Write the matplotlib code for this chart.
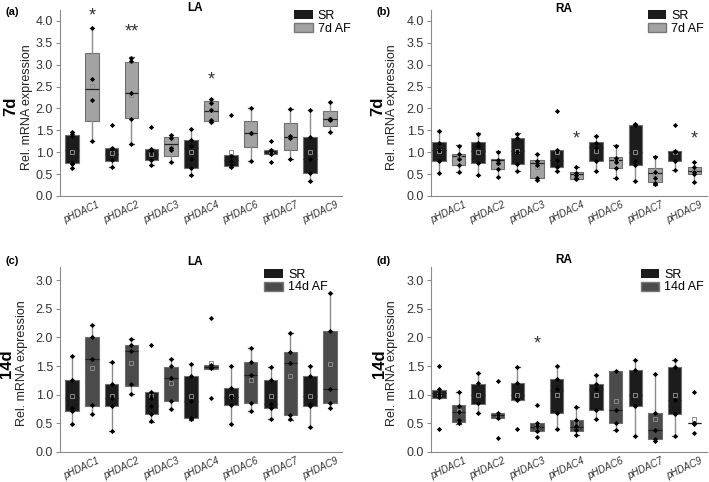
import numpy as np
import matplotlib.pyplot as plt
from matplotlib.patches import Patch

plt.rcParams['font.family'] = ['Liberation Sans', 'DejaVu Sans']

genes = ['pHDAC1', 'pHDAC2', 'pHDAC3', 'pHDAC4', 'pHDAC6', 'pHDAC7', 'pHDAC9']

# box stats per gene: (whisker low, q1, median, q3, whisker high, mean)
# (a) LA 7d
la7_sr_box = [(0.65, 0.75, 1.05, 1.40, 1.47, 1.00), (0.67, 0.81, 0.95, 1.09, 1.09, 0.98),
              (0.71, 0.82, 0.95, 1.07, 1.07, 0.96), (0.47, 0.65, 1.10, 1.28, 1.54, 1.00),
              (0.66, 0.69, 0.82, 0.93, 0.93, 1.00), (0.96, 0.96, 1.01, 1.05, 1.05, 1.02),
              (0.34, 0.52, 0.84, 1.35, 1.97, 1.00)]
la7_sr_pts = [[1.47, 1.42, 1.38, 0.76, 0.72, 0.65], [1.62, 1.09, 1.07, 0.82, 0.67],
              [1.57, 1.07, 1.02, 0.82, 0.71], [1.54, 1.28, 1.15, 0.85, 0.65, 0.47],
              [1.86, 0.92, 0.80, 0.70, 0.66], [1.25, 1.05, 1.02, 0.97, 0.77],
              [1.97, 1.35, 0.84, 0.52, 0.34]]
la7_af_box = [(1.25, 1.72, 2.45, 3.27, 3.84, 2.51), (1.18, 1.79, 2.35, 3.07, 3.17, 2.31),
              (0.77, 0.92, 1.19, 1.35, 1.39, 1.13), (1.69, 1.72, 1.94, 2.17, 2.21, 1.97),
              (0.79, 1.12, 1.43, 1.72, 2.01, 1.43), (0.84, 1.06, 1.35, 1.67, 1.98, 1.34),
              (1.46, 1.59, 1.76, 1.95, 2.14, 1.76)]
la7_af_pts = [[3.84, 2.68, 2.20, 1.25], [3.15, 3.08, 2.35, 1.77, 1.18],
              [1.39, 1.33, 1.10, 1.06, 0.77], [2.21, 2.12, 1.97, 1.74, 1.70],
              [2.01, 1.43, 0.79], [1.98, 1.36, 1.33, 0.84],
              [2.14, 1.77, 1.75, 1.73, 1.46]]
la7_stars = [(1, '*', 4.12), (3, '**', 3.75), (7, '*', 2.65)]

# (b) RA 7d
ra7_sr_box = [(0.52, 0.79, 1.06, 1.23, 1.48, 1.02), (0.48, 0.76, 1.02, 1.24, 1.43, 1.00),
              (0.58, 0.72, 1.02, 1.32, 1.43, 1.02), (0.58, 0.66, 0.82, 1.05, 1.05, 1.00),
              (0.58, 0.79, 1.12, 1.24, 1.38, 1.02), (0.35, 0.70, 1.00, 1.62, 1.65, 1.00),
              (0.60, 0.80, 1.00, 1.03, 1.03, 1.00)]
ra7_sr_pts = [[1.48, 1.21, 1.05, 0.80, 0.52], [1.42, 1.20, 1.15, 0.76, 0.48],
              [1.42, 1.32, 1.00, 0.72, 0.58], [1.95, 1.05, 0.82, 0.66, 0.58],
              [1.38, 1.22, 1.10, 0.80, 0.58], [1.65, 1.62, 0.80, 0.70, 0.35],
              [1.62, 1.03, 1.00, 0.80, 0.60]]
ra7_af_box = [(0.55, 0.70, 0.92, 0.97, 1.17, 0.87), (0.43, 0.62, 0.82, 0.85, 1.02, 0.76),
              (0.37, 0.42, 0.75, 0.82, 0.95, 0.66), (0.38, 0.38, 0.50, 0.55, 0.66, 0.48),
              (0.42, 0.63, 0.83, 0.88, 1.17, 0.80), (0.25, 0.31, 0.52, 0.64, 0.91, 0.50),
              (0.32, 0.51, 0.56, 0.66, 0.77, 0.57)]
ra7_af_pts = [[1.15, 0.95, 0.85, 0.70, 0.55], [1.00, 0.82, 0.75, 0.62, 0.43],
              [0.95, 0.80, 0.70, 0.42, 0.37], [0.66, 0.52, 0.48, 0.40, 0.38],
              [1.15, 0.86, 0.78, 0.63, 0.42], [0.90, 0.55, 0.40, 0.30, 0.27],
              [0.77, 0.66, 0.55, 0.50, 0.32]]
ra7_stars = [(7, '*', 1.30), (13, '*', 1.30)]

# (c) LA 14d
la14_sr_box = [(0.49, 0.72, 0.95, 1.25, 1.68, 0.97), (0.37, 0.81, 0.95, 1.19, 1.58, 0.97),
               (0.53, 0.67, 0.81, 1.04, 1.04, 0.98), (0.56, 0.60, 0.89, 1.32, 1.53, 0.98),
               (0.49, 0.82, 0.96, 1.11, 1.51, 0.98), (0.57, 0.77, 0.84, 1.25, 1.48, 0.98),
               (0.43, 0.81, 0.98, 1.32, 1.51, 0.98)]
la14_sr_pts = [[1.68, 1.25, 0.77, 0.72, 0.49], [1.58, 1.19, 0.95, 0.81, 0.37],
               [1.86, 1.04, 0.95, 0.81, 0.67, 0.54], [1.53, 1.32, 0.89, 0.60, 0.57],
               [1.51, 1.11, 0.96, 0.82, 0.49], [1.48, 1.25, 0.84, 0.77, 0.57],
               [1.51, 1.32, 0.83, 0.81, 0.43]]
la14_af_box = [(0.67, 0.81, 1.63, 2.01, 2.22, 1.47), (1.02, 1.16, 1.77, 1.86, 1.98, 1.56),
               (0.75, 0.89, 1.30, 1.49, 1.62, 1.21), (1.45, 1.45, 1.49, 1.52, 1.52, 1.56),
               (0.71, 0.85, 1.35, 1.58, 1.82, 1.26), (0.56, 0.64, 1.56, 1.75, 2.08, 1.32),
               (0.77, 0.85, 1.10, 2.12, 2.77, 1.53)]
la14_af_pts = [[2.22, 2.01, 1.63, 0.82, 0.67], [1.98, 1.86, 1.77, 1.18, 1.02],
               [1.62, 1.50, 1.30, 0.89, 0.75], [2.34, 1.52, 1.48, 1.46, 0.94],
               [1.82, 1.58, 1.35, 0.86, 0.71], [2.08, 1.75, 1.56, 0.64, 0.57],
               [2.77, 2.12, 1.10, 0.85, 0.77]]
la14_stars = []

# (d) RA 14d
ra14_sr_box = [(0.94, 0.94, 1.03, 1.09, 1.09, 1.00), (0.68, 0.84, 1.00, 1.18, 1.38, 1.00),
               (0.90, 0.91, 1.00, 1.21, 1.49, 1.00), (0.40, 0.68, 1.09, 1.28, 1.50, 1.00),
               (0.58, 0.73, 1.10, 1.19, 1.35, 1.00), (0.28, 0.80, 1.00, 1.44, 1.61, 0.99),
               (0.28, 0.66, 0.91, 1.49, 1.61, 1.00)]
ra14_sr_pts = [[1.51, 1.10, 1.02, 0.96, 0.40], [1.38, 1.20, 0.85, 0.68],
               [1.49, 1.20, 0.92, 0.90, 0.41], [1.50, 1.28, 1.10, 0.68, 0.40],
               [1.35, 1.19, 1.10, 0.73, 0.58], [1.61, 1.44, 0.80, 0.28],
               [1.61, 1.49, 0.91, 0.66, 0.28]]
ra14_af_box = [(0.49, 0.53, 0.70, 0.82, 1.05, 0.72), (0.60, 0.60, 0.64, 0.68, 0.68, 0.64),
               (0.36, 0.36, 0.44, 0.50, 0.50, 0.48), (0.29, 0.36, 0.43, 0.56, 0.79, 0.50),
               (0.38, 0.50, 0.74, 1.42, 1.42, 0.89), (0.20, 0.22, 0.39, 0.68, 1.36, 0.57),
               (0.50, 0.50, 0.50, 0.51, 0.51, 0.57)]
ra14_af_pts = [[1.05, 0.80, 0.70, 0.55, 0.50], [1.24, 0.68, 0.65, 0.60, 0.24],
               [0.82, 0.50, 0.45, 0.36, 0.26], [0.79, 0.55, 0.45, 0.38, 0.30],
               [1.42, 0.74, 0.50, 0.38], [1.36, 0.68, 0.39, 0.22, 0.20],
               [1.04, 0.50, 0.50, 0.49, 0.34]]
ra14_stars = [(5, '*', 1.88)]

SR_COLOR = '#1c1c1c'
AF7_COLOR = '#a3a3a3'
AF14_COLOR = '#4b4b4b'
AXIS_GREY = '#8a8a8a'


def draw_boxes(ax, boxes, pts, pos0, color):
    stats = []
    for b in boxes:
        stats.append(dict(whislo=b[0], q1=b[1], med=b[2], q3=b[3], whishi=b[4],
                          mean=b[5], fliers=[]))
    pos = [pos0 + 2 * i for i in range(len(boxes))]
    ax.bxp(stats, positions=pos, widths=0.68, patch_artist=True, showmeans=True,
           manage_ticks=False, capwidths=0.22,
           boxprops=dict(facecolor=color, edgecolor='#6e6e6e', linewidth=0.8),
           whiskerprops=dict(color='#8c8c8c', linewidth=1.0),
           capprops=dict(color='#555555', linewidth=0.9),
           medianprops=dict(color='#222222', linewidth=0.9),
           meanprops=dict(marker='s', markersize=3.2, markerfacecolor='none',
                          markeredgecolor='#8a8a8a', markeredgewidth=0.7))
    for x, ys in zip(pos, pts):
        ax.scatter([x] * len(ys), ys, s=7, marker='D', color='black', zorder=4,
                   linewidths=0)


def panel(ax, sr_box, sr_pts, af_box, af_pts, af_color, af_label, ymax, ytop,
          xlim, stars, title, title_y, day, lab_x, day_x, leg_anchor):
    draw_boxes(ax, sr_box, sr_pts, 0, SR_COLOR)
    draw_boxes(ax, af_box, af_pts, 1, af_color)
    for xpos, s, y in stars:
        ax.text(xpos, y, s, ha='center', va='center', fontsize=13, color='#333333')
    ax.set_xlim(*xlim)
    ax.set_ylim(0, ymax)
    ax.set_yticks(np.arange(0, ytop + 0.01, 0.5))
    ax.set_yticklabels(['%.1f' % v for v in np.arange(0, ytop + 0.01, 0.5)])
    ax.set_xticks([2 * i + 0.5 for i in range(len(genes))])
    ax.set_xticklabels(genes, rotation=25, fontstyle='italic', fontsize=7,
                       ha='center', color='#333333')
    ax.tick_params(axis='x', length=0, pad=3)
    ax.tick_params(axis='y', labelsize=9, length=3, color=AXIS_GREY,
                   labelcolor='#333333', pad=2)
    for side in ['top', 'right']:
        ax.spines[side].set_visible(False)
    for side in ['left', 'bottom']:
        ax.spines[side].set_color(AXIS_GREY)
    ax.text(lab_x, 0.48, 'Rel. mRNA expression', transform=ax.transAxes,
            rotation=90, ha='center', va='center', fontsize=9, color='#222222')
    ax.text(day_x, 0.48, day, transform=ax.transAxes, rotation=90, ha='center',
            va='center', fontsize=12, fontweight='bold')
    ax.text(0.48, title_y, title, transform=ax.transAxes, ha='center',
            va='baseline', fontsize=8.5, fontweight='bold')
    handles = [Patch(facecolor=SR_COLOR, edgecolor='none', label='SR'),
               Patch(facecolor=af_color, edgecolor='#777777', label=af_label)]
    ax.legend(handles=handles, loc='upper right', bbox_to_anchor=leg_anchor,
              frameon=False, fontsize=9, handlelength=1.5, handleheight=0.75,
              labelspacing=0.05, handletextpad=0.4, borderaxespad=0, borderpad=0)


fig = plt.figure(figsize=(7.09, 4.82), dpi=100)
W, H = 709.0, 482.0
ax_a = fig.add_axes([60 / W, 1 - 196 / H, 282 / W, 186 / H])
ax_b = fig.add_axes([431 / W, 1 - 196 / H, 276 / W, 186 / H])
ax_c = fig.add_axes([60 / W, 1 - 452 / H, 282 / W, 185 / H])
ax_d = fig.add_axes([431 / W, 1 - 452 / H, 276 / W, 185 / H])

panel(ax_a, la7_sr_box, la7_sr_pts, la7_af_box, la7_af_pts, AF7_COLOR, '7d AF',
      4.25, 4.0, (-0.6, 13.6), la7_stars, 'LA', 0.995, '7d', -0.117, -0.175,
      (1.03, 1.0))
panel(ax_b, ra7_sr_box, ra7_sr_pts, ra7_af_box, ra7_af_pts, AF7_COLOR, '7d AF',
      4.25, 4.0, (-0.4, 13.65), ra7_stars, 'RA', 0.99, '7d', -0.141, -0.193,
      (0.99, 1.0))
panel(ax_c, la14_sr_box, la14_sr_pts, la14_af_box, la14_af_pts, AF14_COLOR, '14d AF',
      3.23, 3.0, (-0.6, 13.6), la14_stars, 'LA', 1.01, '14d', -0.135, -0.19,
      (0.95, 0.99))
panel(ax_d, ra14_sr_box, ra14_sr_pts, ra14_af_box, ra14_af_pts, AF14_COLOR, '14d AF',
      3.23, 3.0, (-0.4, 13.65), ra14_stars, 'RA', 1.02, '14d', -0.141, -0.188,
      (0.99, 0.99))

for lbl, x, y in [('(a)', 5, 12), ('(b)', 377, 12), ('(c)', 5, 261), ('(d)', 377, 261)]:
    fig.text(x / W, 1 - y / H, lbl, ha='left', va='center', fontsize=8,
             fontweight='bold')

fig.savefig('out.png', dpi=100)
